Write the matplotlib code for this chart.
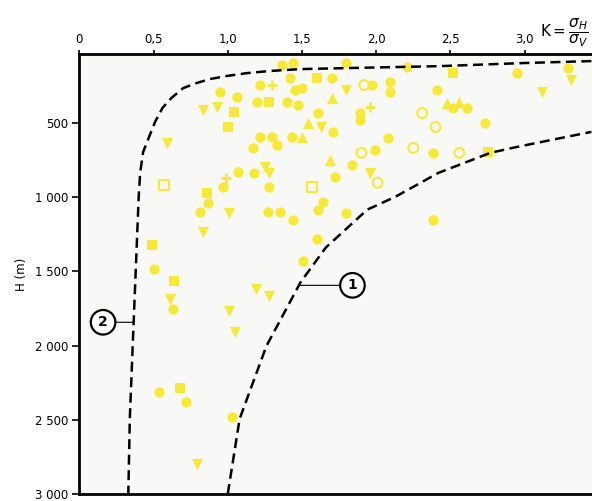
import matplotlib.pyplot as plt

# stress ratio K = sigma_H / sigma_V against depth H (m)
k_dot = [1.365, 1.44, 1.80, 2.21, 2.95, 3.29, 1.42, 1.70, 1.97, 2.09, 2.09, 2.41, 1.45, 1.50,
         1.40, 1.47, 1.61, 1.71, 1.89, 1.89, 1.43, 2.08, 1.99, 2.38, 2.52, 2.61, 2.73, 1.22,
         0.95, 1.06, 1.20, 1.22, 1.30, 1.17, 1.33, 1.07, 1.18, 0.97, 1.28, 0.87, 0.81, 1.27,
         1.35, 1.44, 1.84, 1.72, 1.64, 1.61, 1.80, 1.60, 1.51, 2.38, 0.50, 0.63, 0.54, 0.72, 1.03]
h_dot = [110, 97, 97, 124, 164, 130, 197, 197, 244, 224, 291, 278, 278, 265,
         359, 379, 433, 561, 433, 480, 594, 600, 681, 701, 400, 400, 500, 244,
         291, 326, 359, 594, 594, 668, 648, 830, 836, 930, 930, 1038, 1098, 1098,
         1098, 1151, 782, 863, 1030, 1084, 1104, 1285, 1433, 1151, 1487, 1755, 2313, 2380, 2481]

k_sq = [2.52, 1.60, 1.28, 1.04, 1.00, 0.86, 0.49, 0.64, 0.68, 2.75]
h_sq = [164, 197, 359, 426, 527, 970, 1319, 1568, 2286, 695]

k_down = [3.31, 3.12, 1.63, 1.80, 0.83, 0.93, 0.59, 1.25, 1.28, 1.01, 0.83, 1.96,
          0.61, 1.19, 1.28, 1.01, 1.05, 0.79]
h_down = [211, 291, 527, 278, 413, 393, 634, 795, 836, 1104, 1232, 836,
          1688, 1621, 1668, 1769, 1910, 2796]

k_up = [1.70, 1.54, 1.69, 2.48, 2.56, 1.50]
h_up = [332, 500, 749, 366, 359, 594]

k_ring = [1.92, 2.31, 2.40, 2.25, 1.90, 2.01, 2.56]
h_ring = [244, 433, 527, 668, 701, 903, 701]

k_box = [1.57, 0.57]
h_box = [930, 916]

k_plus = [1.30, 1.96, 0.99]
h_plus = [244, 392, 869]

# dashed limit curves
k_curve1 = [1.0, 1.08, 1.26, 1.49, 1.66, 1.94, 2.13, 2.42, 2.77, 2.95, 3.45]
h_curve1 = [3000, 2494, 2004, 1574, 1340, 1084, 997, 836, 701, 661, 560]
k_curve2 = [3.45, 2.97, 2.43, 2.0, 1.49, 1.28, 1.13, 0.99, 0.88, 0.79, 0.70, 0.62,
            0.56, 0.51, 0.43, 0.41, 0.40, 0.38, 0.36, 0.34, 0.33]
h_curve2 = [83, 97, 117, 126, 137, 150, 164, 184, 204, 231, 265, 332,
            399, 493, 695, 835, 997, 1494, 1991, 2494, 3000]

x_ticks = [0, 0.5, 1.0, 1.5, 2.0, 2.5, 3.0]
x_labels = ['0', '0,5', '1,0', '1,5', '2,0', '2,5', '3,0']
y_ticks = [500, 1000, 1500, 2000, 2500, 3000]
y_labels = ['500', '1 000', '1 500', '2 000', '2 500', '3 000']

yellow = '#f7e93a'

fig = plt.figure(figsize=(5.92, 5.01), dpi=100)
ax = fig.add_axes([0.134, 0.014, 0.866, 0.878])
ax.set_facecolor('#f8f8f6')

ax.scatter(k_dot, h_dot, s=55, marker='o', color=yellow, linewidths=0, zorder=3)
ax.scatter(k_sq, h_sq, s=55, marker='s', color=yellow, linewidths=0, zorder=3)
ax.scatter(k_down, h_down, s=65, marker='v', color=yellow, linewidths=0, zorder=3)
ax.scatter(k_up, h_up, s=65, marker='^', color=yellow, linewidths=0, zorder=3)
ax.scatter(k_ring, h_ring, s=50, marker='o', facecolors='none', edgecolors=yellow, linewidths=1.5, zorder=3)
ax.scatter(k_box, h_box, s=50, marker='s', facecolors='none', edgecolors=yellow, linewidths=1.5, zorder=3)
ax.scatter(k_plus, h_plus, s=55, marker='+', color=yellow, linewidths=2, zorder=3)

ax.plot(k_curve1, h_curve1, color='black', lw=1.8, ls=(0, (4, 2.2)), zorder=4)
ax.plot(k_curve2, h_curve2, color='black', lw=1.8, ls=(0, (4, 2.2)), zorder=4)

circ = dict(boxstyle='circle,pad=0.38', fc='white', ec='black', lw=1.6)
ax.annotate('2', xy=(0.365, 1843), xytext=(0.16, 1843), fontsize=10, fontweight='bold',
            ha='center', va='center', bbox=circ,
            arrowprops=dict(arrowstyle='-', lw=0.8, color='black', shrinkA=0, shrinkB=0))
ax.annotate('1', xy=(1.49, 1594), xytext=(1.84, 1594), fontsize=10, fontweight='bold',
            ha='center', va='center', bbox=circ,
            arrowprops=dict(arrowstyle='-', lw=0.8, color='black', shrinkA=0, shrinkB=0))

ax.set_xlim(0, 3.454)
ax.set_ylim(3000, 36)
ax.xaxis.tick_top()
ax.set_xticks(x_ticks)
ax.set_xticklabels(x_labels, fontsize=8.5)
ax.set_yticks(y_ticks)
ax.set_yticklabels(y_labels, fontsize=8.5)
ax.tick_params(axis='x', length=3, width=1.2, pad=3)
ax.tick_params(axis='y', length=5, width=1.2, pad=3)
ax.spines['right'].set_visible(False)
for s in ['left', 'top', 'bottom']:
    ax.spines[s].set_linewidth(2)
ax.set_ylabel('H (m)', fontsize=8.5, labelpad=5)

fig.text(0.995, 0.935, r'K$=\dfrac{\sigma_H}{\sigma_V}$', fontsize=11, va='center', ha='right')

fig.savefig('out.png', dpi=100)
